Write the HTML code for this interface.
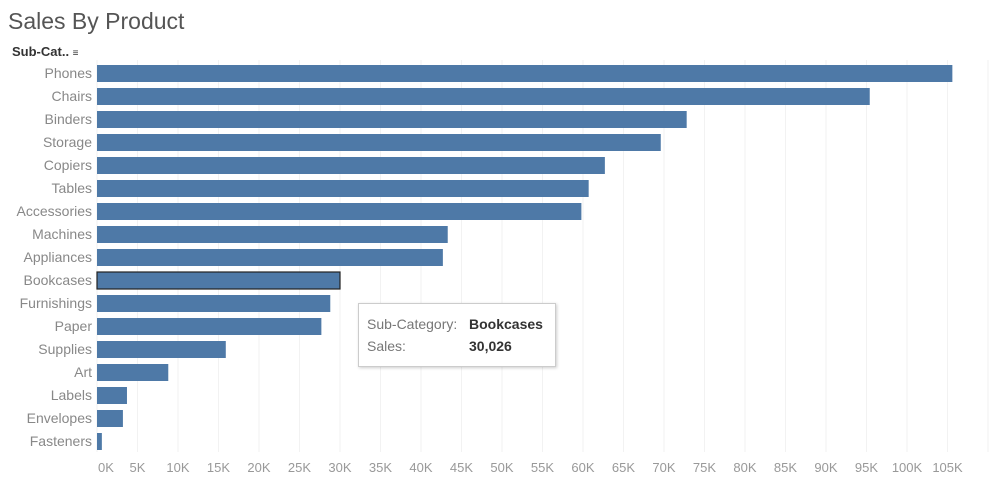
<!DOCTYPE html>
<html><head><meta charset="utf-8"><style>
body{margin:0;width:1000px;height:482px;background:#fff;font-family:"Liberation Sans",sans-serif;overflow:hidden;position:relative}
#title{position:absolute;left:8px;top:8px;font-size:23px;color:#555}
#hdr{position:absolute;left:12px;top:44px;font-size:13px;font-weight:bold;color:#333}
#tip{position:absolute;left:358px;top:303px;width:196px;height:62px;background:#fff;border:1px solid #ccc;box-shadow:1px 1px 3px rgba(0,0,0,.2);font-size:14px;color:#777}
#tip div{position:absolute;left:8px}
#tip b{position:absolute;left:110px;color:#333}
</style></head><body>
<div id="title">Sales By Product</div>
<div id="hdr">Sub-Cat.. <span style="font-size:10px;font-weight:normal">≡</span></div>
<svg id="c" width="1000" height="482" style="position:absolute;left:0;top:0"></svg>
<div id="tip">
<div style="top:12px">Sub-Category: <b style="left:102px">Bookcases</b></div>
<div style="top:34px">Sales:<b style="left:102px">30,026</b></div>
</div>
<script>
const categories=["Phones","Chairs","Binders","Storage","Copiers","Tables","Accessories","Machines","Appliances","Bookcases","Furnishings","Paper","Supplies","Art","Labels","Envelopes","Fasteners"];
const sales=[105.6,95.4,72.8,69.6,62.7,60.7,59.8,43.3,42.7,30.0,28.8,27.7,15.9,8.8,3.7,3.2,0.6];
const ticks=[0,5,10,15,20,25,30,35,40,45,50,55,60,65,70,75,80,85,90,95,100,105];
const NS="http://www.w3.org/2000/svg",svg=document.getElementById('c');
const x=v=>97+v*8.1, y=i=>73+i*23;
function mk(t,a){const e=document.createElementNS(NS,t);for(const k in a)e.setAttribute(k,a[k]);svg.appendChild(e);return e;}
ticks.concat([110]).forEach(t=>{const g=mk('line',{x1:x(t),x2:x(t),y1:60,y2:452,stroke:'#f2f2f2','stroke-width':1});

});
ticks.forEach(t=>{const e=mk('text',{x:t===0?x(t)+9:x(t),y:472,'text-anchor':'middle','font-size':13,fill:'#999','font-family':'Liberation Sans'});e.textContent=t+'K';

});
categories.forEach((c,i)=>{
const l=mk('text',{x:92,y:y(i)+5,'text-anchor':'end','font-size':14,fill:'#888','font-family':'Liberation Sans'});l.textContent=c;


const b=mk('rect',{x:97,y:y(i)-8,width:x(sales[i])-97,height:17,fill:'#4e79a7'});
if(c==='Bookcases'){b.setAttribute('stroke','#222');b.setAttribute('stroke-width','1.2');}


});
</script>
</body></html>
